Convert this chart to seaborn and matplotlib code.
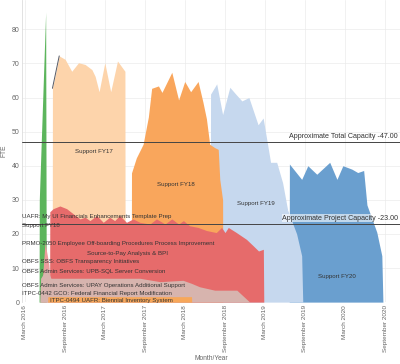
import pandas as pd
import matplotlib
matplotlib.use("Agg")
import matplotlib.pyplot as plt
import matplotlib.dates as mdates
import seaborn as sns

# cumulative top of each stacked band (FTE)
fy20_dates = ["2019-06-21", "2019-06-22", "2019-08-17", "2019-09-14", "2019-10-25", "2019-12-23",
              "2020-01-25", "2020-02-21", "2020-04-02", "2020-04-29", "2020-05-26", "2020-06-10",
              "2020-07-25", "2020-08-17", "2020-08-22"]
fy20_vals = [0, 40.5, 36, 40, 37.5, 41, 36, 40, 39, 38, 38.6, 28.5, 20.5, 13.6, 0]

fy19_dates = ["2018-06-25", "2018-06-27", "2018-07-25", "2018-08-21", "2018-09-23", "2018-10-20",
              "2018-11-17", "2018-12-19", "2019-01-30", "2019-02-22", "2019-03-15", "2019-03-28",
              "2019-04-25", "2019-05-22", "2019-06-14", "2019-07-25", "2019-08-17", "2019-08-22"]
fy19_vals = [0, 61, 64, 55, 63, 61, 59, 60, 52, 54, 46, 41, 41, 35, 27, 20, 13.6, 0]

fy18_dates = ["2017-06-30", "2017-07-01", "2017-07-23", "2017-08-23", "2017-09-16", "2017-10-01",
              "2017-11-01", "2017-11-17", "2018-01-01", "2018-02-01", "2018-03-01", "2018-03-28",
              "2018-05-01", "2018-05-23", "2018-06-08", "2018-06-23", "2018-07-16", "2018-08-01",
              "2018-08-08", "2018-08-21", "2018-08-22"]
fy18_vals = [0, 37.9, 42.3, 46.3, 54.3, 62.7, 63.4, 61.5, 67.4, 59.3, 64.7, 61.7, 64.7, 58.7,
             53.8, 46.3, 45.3, 44.8, 36, 30, 0]

fy17_dates = ["2016-07-04", "2016-07-05", "2016-08-05", "2016-09-01", "2016-10-01", "2016-11-01",
              "2016-12-01", "2017-01-01", "2017-01-16", "2017-02-03", "2017-03-01", "2017-03-28",
              "2017-04-28", "2017-06-01", "2017-06-02"]
fy17_vals = [0, 62.7, 72.2, 71.2, 67.7, 70.2, 69.7, 68.2, 66.2, 61.7, 70.2, 61.7, 70.7, 67.7, 0]

green_dates = ["2016-05-05", "2016-05-06", "2016-06-04", "2016-06-07"]
green_vals = [0, 30, 85, 0]

spike_dates = ["2016-05-13", "2016-06-01", "2016-06-19", "2016-06-28"]
spike_vals = [0, 17.5, 11, 0]

red_dates = ["2016-06-22", "2016-06-23", "2016-07-08", "2016-08-08", "2016-09-08", "2016-10-08",
             "2016-11-08", "2016-12-01", "2016-12-23", "2017-01-23", "2017-02-22", "2017-03-23",
             "2017-04-15", "2017-05-08", "2017-06-08", "2017-07-08", "2017-08-08", "2017-09-23",
             "2017-10-23", "2017-12-01", "2018-01-01", "2018-02-01", "2018-02-23", "2018-03-23",
             "2018-05-01", "2018-06-08", "2018-07-23", "2018-08-16", "2018-09-01", "2018-09-16",
             "2018-10-23", "2018-12-08", "2019-01-08", "2019-02-01", "2019-02-23", "2019-02-25"]
red_vals = [0, 26.5, 27.4, 28.2, 27.4, 25.9, 24.4, 24.9, 23.9, 25.4, 23.4, 24.9, 23.9, 25.4,
            23.4, 24.4, 23.4, 22.9, 24.4, 22.9, 24.4, 22.9, 23.9, 22.4, 21.9, 21.0, 20.4, 21.9,
            20.4, 21.9, 20.4, 18.4, 16.5, 15.0, 15.5, 0]

gray_dates = ["2016-05-08", "2016-05-12", "2016-06-10", "2016-06-28", "2017-08-08", "2017-11-08",
              "2018-02-21", "2018-04-01", "2018-05-08", "2018-07-16", "2018-10-25", "2018-12-23"]
gray_vals = [0, 7, 10, 7, 7, 6, 6.4, 5.5, 4.5, 3.5, 3.5, 0]

bar_dates = ["2016-06-13", "2016-06-14", "2018-04-01", "2018-04-02"]
bar_vals = [0, 1.6, 1.6, 0]

edge_dates = ["2016-07-05", "2016-08-05"]
edge_vals = [62.7, 72.2]

total_capacity = 47
project_capacity = 23

band_labels = [
    ("UAFR: My UI Financials Enhancements Template Prep", "2016-02-19", 25.0),
    ("Support FY18", "2016-02-19", 22.4),
    ("PRMO-2050 Employee Off-boarding Procedures Process Improvement", "2016-02-19", 17.2),
    ("Source-to-Pay Analysis & BPI", "2016-12-10", 14.3),
    ("OBFS SSS: OBFS Transparency Initiatives", "2016-02-19", 12.0),
    ("OBFS Admin Services: UPB-SQL Server Conversion", "2016-02-19", 9.1),
    ("OBFS Admin Services: UPAY Operations Additional Support", "2016-02-19", 4.9),
    ("ITPC-0442 GCO: Federal Financial Report Modification", "2016-02-19", 2.5),
    ("ITPC-0494 UAFR: Biennial Inventory System", "2016-06-24", 0.6),
]
support_labels = [
    ("Support FY17", "2017-01-10", 44.3),
    ("Support FY18", "2018-01-20", 34.5),
    ("Support FY19", "2019-01-20", 29.0),
    ("Support FY20", "2020-01-25", 7.6),
]

sns.set_theme(style="whitegrid")
plt.rcParams["font.family"] = ["Liberation Sans", "DejaVu Sans"]

fig = plt.figure(figsize=(4, 3.64), dpi=100)
ax = fig.add_axes([0.055, 0.17, 0.945, 0.83])

layers = [
    (fy20_dates, fy20_vals, "#6a9fcf"),
    (fy19_dates, fy19_vals, "#c6d8ee"),
    (fy18_dates, fy18_vals, "#f9a65c"),
    (fy17_dates, fy17_vals, "#fdd4ab"),
    (green_dates, green_vals, "#5cb55c"),
    (spike_dates, spike_vals, "#ec9c9c"),
    (red_dates, red_vals, "#e66b6b"),
    (gray_dates, gray_vals, "#d7b4ae"),
    (bar_dates, bar_vals, "#f7a75a"),
]
for dates, vals, col in layers:
    ax.fill_between(pd.to_datetime(dates), vals, 0, color=col, lw=0, zorder=2)

edge = pd.DataFrame({"date": pd.to_datetime(edge_dates), "fte": edge_vals})
sns.lineplot(data=edge, x="date", y="fte", color="#555a66", lw=0.7, ax=ax, zorder=3)

ax.axhline(total_capacity, color="#444444", lw=0.7, zorder=4)
ax.axhline(project_capacity, color="#444444", lw=0.7, zorder=4)
ax.text(0.995, total_capacity + 0.6, f"Approximate Total Capacity -{total_capacity:.2f}",
        transform=ax.get_yaxis_transform(), ha="right", va="bottom", fontsize=5.1, color="#333333", zorder=5)
ax.text(0.995, project_capacity + 0.6, f"Approximate Project Capacity -{project_capacity:.2f}",
        transform=ax.get_yaxis_transform(), ha="right", va="bottom", fontsize=5.1, color="#333333", zorder=5,
        bbox=dict(facecolor="white", edgecolor="none", alpha=0.6, pad=0.3))

for txt, d, v in band_labels + support_labels:
    ha = "center" if txt.startswith("Support FY") and d != "2016-02-19" else "left"
    ax.text(pd.Timestamp(d), v, txt, ha=ha, va="center", fontsize=4.45, color="#333333", zorder=5)

ax.set_xlim(pd.Timestamp("2016-02-17"), pd.Timestamp("2020-11-08"))
ax.set_ylim(0, 88.6)
ax.set_yticks(range(0, 90, 10))
ax.xaxis.set_major_locator(mdates.MonthLocator(bymonth=[3, 9]))
ax.xaxis.set_major_formatter(mdates.DateFormatter("%B %Y"))
ax.tick_params(axis="x", labelrotation=90, labelsize=4.6, colors="#666666", pad=2, length=0)
ax.tick_params(axis="y", labelsize=5, colors="#666666", pad=2, length=0)
ax.grid(color="#ebebeb", lw=0.5)
ax.set_axisbelow(True)
for s in ["top", "right", "bottom"]:
    ax.spines[s].set_visible(False)
ax.spines["left"].set_color("#dddddd")
ax.spines["left"].set_linewidth(0.6)
ax.set_xlabel("Month/Year", fontsize=4.8, color="#666666", labelpad=2)
ax.set_ylabel("FTE", fontsize=4.8, color="#666666", labelpad=3)

fig.savefig("out.png", dpi=100, facecolor="white")
